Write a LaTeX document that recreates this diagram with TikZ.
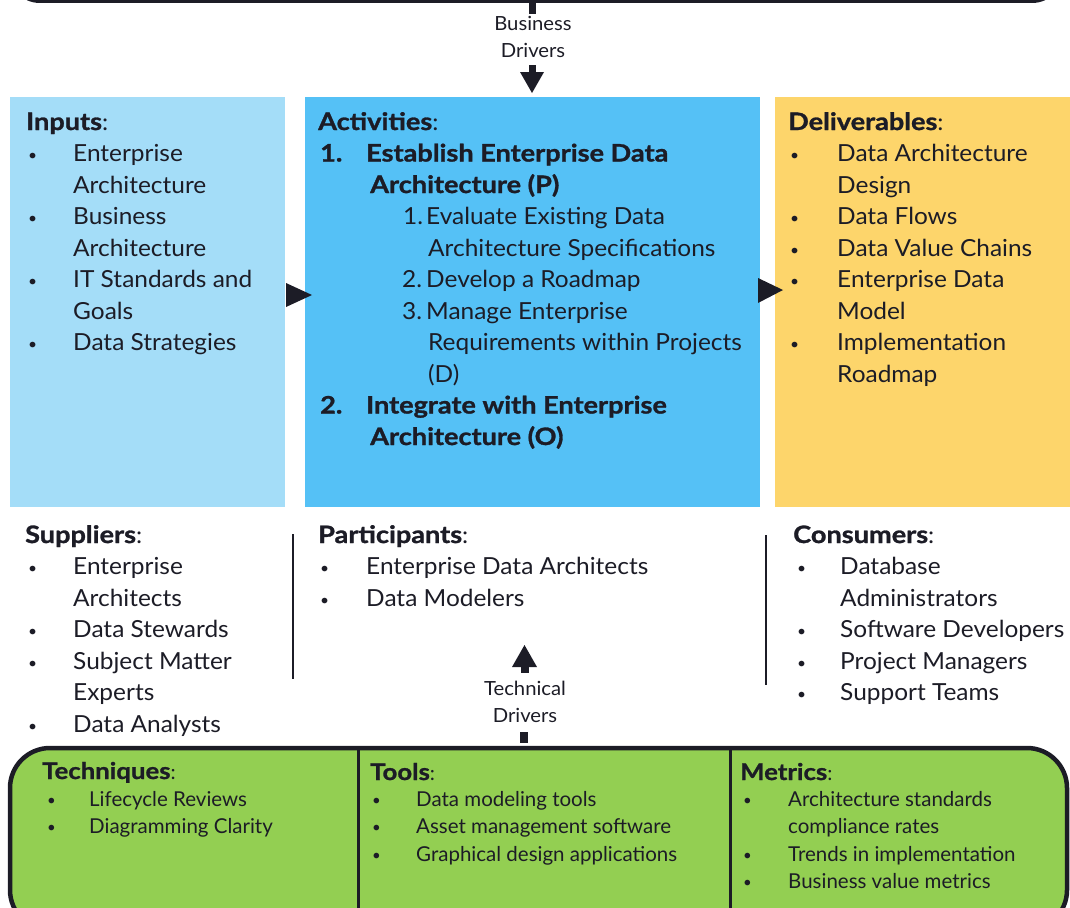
\documentclass[tikz,border=0pt]{standalone}
\usepackage{fontspec}
\setmainfont{Lato}[FakeStretch=1.04, BoldFeatures={FakeStretch=1.13, FakeBold=1.2}]
\newfontfamily\botfont{Lato}[BoldFeatures={FakeStretch=1.12, FakeBold=1.0}]
\definecolor{inbl}{HTML}{A4DDF8}
\definecolor{actbl}{HTML}{55C1F6}
\definecolor{delyl}{HTML}{FDD56B}
\definecolor{grn}{HTML}{93CF52}
\definecolor{txtc}{HTML}{1C1C26}
\newcommand{\mainsz}{\fontsize{23.5}{28}\selectfont}
\newcommand{\bigb}{\fontsize{24}{28}\selectfont\bfseries}
\newcommand{\smsz}{\botfont\fontsize{20.5}{24}\selectfont}
\newcommand{\smhd}{\botfont\fontsize{23}{26}\selectfont\bfseries}
\newcommand{\drvsz}{\fontsize{19.5}{23}\selectfont}
\newcommand{\bul}{\raisebox{1pt}{\fontsize{15}{15}\selectfont\textbullet}}
\tikzset{
  tx/.style={anchor=base west, inner sep=0pt, font=\mainsz, text=txtc},
  sx/.style={anchor=base west, inner sep=0pt, font=\smsz, text=txtc},
  dx/.style={anchor=base, inner sep=0pt, font=\drvsz, text=txtc},
  sepline/.style={draw=txtc, line width=2.5pt},
}
\newcommand{\hb}[1]{{\bigb #1}}
\newcommand{\sh}[1]{{\smhd #1}}
\begin{document}
\begin{tikzpicture}[x=1pt,y=-1pt]
\useasboundingbox (0,0) rectangle (1070,907);
% top box (only its bottom edge visible)
\draw[line width=3pt, rounded corners=30pt, draw=txtc] (10,-80) rectangle (1062,1.5);
% three boxes
\fill[inbl] (10,97) rectangle (285,507);
\fill[actbl] (305,97) rectangle (760,507);
\fill[delyl] (775,97) rectangle (1070,507);
\node[inner sep=0, minimum width=275pt, minimum height=410pt] (inbox) at (147.5,302) {};
\node[inner sep=0, minimum width=455pt, minimum height=410pt] (actbox) at (532.5,302) {};
\node[inner sep=0, minimum width=295pt, minimum height=410pt] (delbox) at (922.5,302) {};
% arrow heads between boxes
\fill[txtc] (286,283) -- (312,295) -- (286,307) -- cycle;
\fill[txtc] (758,278) -- (783,290) -- (758,303) -- cycle;
% business drivers
\fill[txtc] (529,0) rectangle (536,14);
\node[dx] (bd1) at (533,31) {Business};
\node[dx] (bd2) at (533,57) {Drivers};
\fill[txtc] (528.5,65) rectangle (535.5,73);
\fill[txtc] (520,72) -- (544,72) -- (532,93) -- cycle;
% technical drivers
\fill[txtc] (512,667) -- (537,667) -- (524.5,645) -- cycle;
\fill[txtc] (520.5,666) rectangle (528.5,673);
\node[dx] (td1) at (525,695) {Technical};
\node[dx] (td2) at (525,722) {Drivers};
\fill[txtc] (519.5,732) rectangle (528,743);
% Inputs
\node[tx] (inh) at (26,130) {\hb{Inputs}:};
\node[tx] (inb1) at (28,161.5) {\bul};
\node[tx] (int1) at (73,161.5) {Enterprise};
\node[tx] (int2) at (73,193) {Architecture};
\node[tx] (inb2) at (28,224.5) {\bul};
\node[tx] (int3) at (73,224.5) {Business};
\node[tx] (int4) at (73,256) {Architecture};
\node[tx] (inb3) at (28,287.5) {\bul};
\node[tx] (int5) at (73,287.5) {IT Standards and};
\node[tx] (int6) at (73,319) {Goals};
\node[tx] (inb4) at (28,350.5) {\bul};
\node[tx] (int7) at (73,350.5) {Data Strategies};
% Activities
\node[tx] (ach) at (318,130) {\hb{Activities}:};
\node[tx] (acn1) at (320,161.5) {\hb{1.}};
\node[tx] (act1) at (366,161.5) {\hb{Establish Enterprise Data}};
\node[tx] (act2) at (370,193) {\hb{Architecture (P)}};
\node[tx] (acs1) at (403,224.5) {1.};
\node[tx] (act3) at (426,224.5) {Evaluate Existing Data};
\node[tx] (act4) at (428,256) {Architecture Specifications};
\node[tx] (acs2) at (402,287.5) {2.};
\node[tx] (act5) at (426,287.5) {Develop a Roadmap};
\node[tx] (acs3) at (402,319) {3.};
\node[tx] (act6) at (426,319) {Manage Enterprise};
\node[tx] (act7) at (428,350.5) {Requirements within Projects};
\node[tx] (act8) at (428,382) {(D)};
\node[tx] (acn2) at (320,413.5) {\hb{2.}};
\node[tx] (act9) at (366,413.5) {\hb{Integrate with Enterprise}};
\node[tx] (act10) at (370,445) {\hb{Architecture (O)}};
% Deliverables
\node[tx] (deh) at (788,130) {\hb{Deliverables}:};
\node[tx] (deb1) at (790,161.5) {\bul};
\node[tx] (det1) at (837,161.5) {Data Architecture};
\node[tx] (det2) at (837,193) {Design};
\node[tx] (deb2) at (790,224.5) {\bul};
\node[tx] (det3) at (837,224.5) {Data Flows};
\node[tx] (deb3) at (790,256) {\bul};
\node[tx] (det4) at (837,256) {Data Value Chains};
\node[tx] (deb4) at (790,287.5) {\bul};
\node[tx] (det5) at (837,287.5) {Enterprise Data};
\node[tx] (det6) at (837,319) {Model};
\node[tx] (deb5) at (790,350.5) {\bul};
\node[tx] (det7) at (837,350.5) {Implementation};
\node[tx] (det8) at (837,382) {Roadmap};
% Suppliers
\node[tx] (suh) at (25,543) {\hb{Suppliers}:};
\node[tx] (sub1) at (28,574.5) {\bul};
\node[tx] (sut1) at (73,574.5) {Enterprise};
\node[tx] (sut2) at (73,606) {Architects};
\node[tx] (sub2) at (28,637.5) {\bul};
\node[tx] (sut3) at (73,637.5) {Data Stewards};
\node[tx] (sub3) at (28,669) {\bul};
\node[tx] (sut4) at (73,669) {Subject Matter};
\node[tx] (sut5) at (73,700.5) {Experts};
\node[tx] (sub4) at (28,732) {\bul};
\node[tx] (sut6) at (73,732) {Data Analysts};
% separators
\draw[sepline] (293,534) -- (293,679);
\draw[sepline] (766,535) -- (766,685);
% Participants
\node[tx] (pah) at (318,543) {\hb{Participants}:};
\node[tx] (pab1) at (320,574.5) {\bul};
\node[tx] (pat1) at (366,574.5) {Enterprise Data Architects};
\node[tx] (pab2) at (320,606) {\bul};
\node[tx] (pat2) at (366,606) {Data Modelers};
% Consumers
\node[tx] (coh) at (793,543) {\hb{Consumers}:};
\node[tx] (cob1) at (797,574.5) {\bul};
\node[tx] (cot1) at (840,574.5) {Database};
\node[tx] (cot2) at (840,606) {Administrators};
\node[tx] (cob2) at (797,637.5) {\bul};
\node[tx] (cot3) at (840,637.5) {Software Developers};
\node[tx] (cob3) at (797,669) {\bul};
\node[tx] (cot4) at (840,669) {Project Managers};
\node[tx] (cob4) at (797,700.5) {\bul};
\node[tx] (cot5) at (840,700.5) {Support Teams};
% bottom green box
\draw[fill=grn, draw=txtc, line width=4.5pt, rounded corners=40pt] (10,748) rectangle (1067,930);
\draw[draw=txtc, line width=3pt] (358,748) -- (358,910);
\draw[draw=txtc, line width=3pt] (730,748) -- (730,910);
% Techniques
\node[sx] (teh) at (42,779) {\sh{Techniques}:};
\node[sx] (teb1) at (47,806) {\bul};
\node[sx] (tet1) at (89,806) {Lifecycle Reviews};
\node[sx] (teb2) at (47,833.5) {\bul};
\node[sx] (tet2) at (89,833.5) {Diagramming Clarity};
% Tools
\node[sx] (toh) at (370,780) {\sh{Tools}:};
\node[sx] (tob1) at (372,806) {\bul};
\node[sx] (tot1) at (416,806) {Data modeling tools};
\node[sx] (tob2) at (372,833.5) {\bul};
\node[sx] (tot2) at (416,833.5) {Asset management software};
\node[sx] (tob3) at (372,861) {\bul};
\node[sx] (tot3) at (416,861) {Graphical design applications};
% Metrics
\node[sx] (meh) at (740,780) {\sh{Metrics}:};
\node[sx] (meb1) at (743,806) {\bul};
\node[sx] (met1) at (788,806) {Architecture standards};
\node[sx] (met2) at (788,833.5) {compliance rates};
\node[sx] (meb2) at (743,861) {\bul};
\node[sx] (met3) at (788,861) {Trends in implementation};
\node[sx] (meb3) at (743,888.5) {\bul};
\node[sx] (met4) at (788,888.5) {Business value metrics};
\end{tikzpicture}
\end{document}
